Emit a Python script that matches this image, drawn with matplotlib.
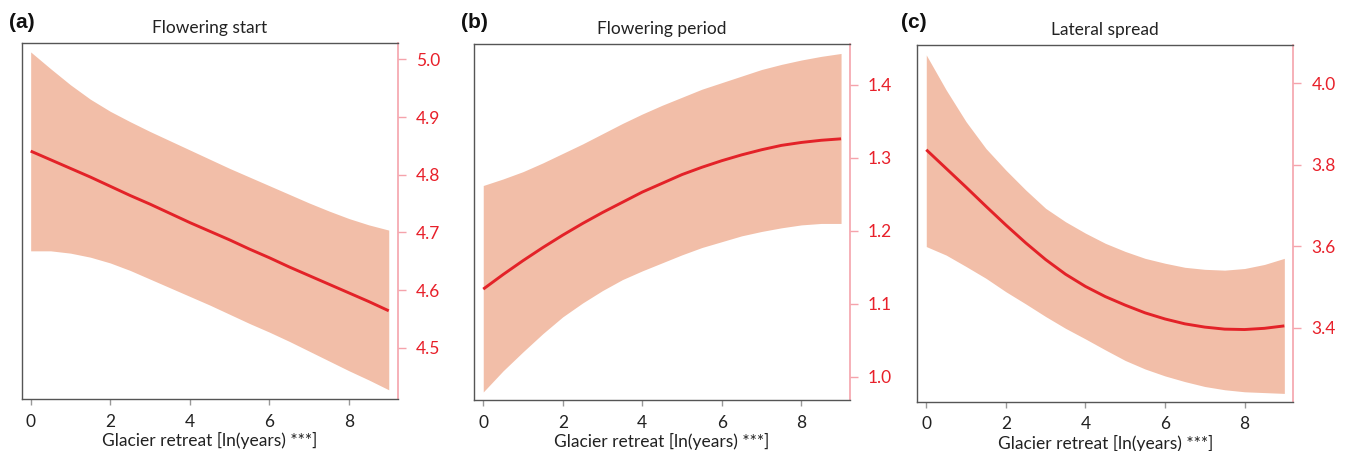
import matplotlib.pyplot as plt

plt.rcParams['font.family'] = ['Lato', 'DejaVu Sans']

# common x grid (ln years since glacier retreat)
retreat = [0, 0.5, 1, 1.5, 2, 2.5, 3, 3.5, 4, 4.5, 5, 5.5, 6, 6.5, 7, 7.5, 8, 8.5, 9]

# (a) flowering start
start_fit = [4.841, 4.826, 4.811, 4.796, 4.780, 4.764, 4.749, 4.733, 4.717, 4.702,
             4.687, 4.671, 4.656, 4.640, 4.625, 4.610, 4.595, 4.580, 4.564]
start_hi = [5.013, 4.984, 4.956, 4.931, 4.910, 4.892, 4.875, 4.859, 4.843, 4.827,
            4.811, 4.796, 4.781, 4.766, 4.751, 4.737, 4.724, 4.713, 4.704]
start_lo = [4.668, 4.668, 4.664, 4.657, 4.647, 4.634, 4.619, 4.604, 4.589, 4.574,
            4.558, 4.542, 4.527, 4.511, 4.494, 4.477, 4.460, 4.444, 4.427]

# (b) flowering period
period_fit = [1.120, 1.140, 1.159, 1.177, 1.194, 1.210, 1.225, 1.239, 1.253, 1.265,
              1.277, 1.287, 1.296, 1.304, 1.311, 1.317, 1.321, 1.324, 1.326]
period_hi = [1.262, 1.271, 1.281, 1.293, 1.306, 1.319, 1.333, 1.347, 1.360, 1.372,
             1.383, 1.394, 1.403, 1.412, 1.421, 1.428, 1.434, 1.439, 1.443]
period_lo = [0.979, 1.008, 1.034, 1.059, 1.082, 1.101, 1.118, 1.133, 1.145, 1.156,
             1.167, 1.177, 1.185, 1.193, 1.199, 1.204, 1.208, 1.210, 1.210]

# (c) lateral spread
spread_fit = [3.837, 3.791, 3.745, 3.698, 3.652, 3.608, 3.567, 3.531, 3.501, 3.476,
              3.455, 3.436, 3.421, 3.409, 3.401, 3.396, 3.395, 3.398, 3.404]
spread_hi = [4.070, 3.984, 3.906, 3.840, 3.787, 3.738, 3.693, 3.660, 3.632, 3.607,
             3.587, 3.570, 3.558, 3.548, 3.543, 3.541, 3.545, 3.555, 3.570]
spread_lo = [3.599, 3.578, 3.550, 3.521, 3.488, 3.458, 3.427, 3.398, 3.372, 3.345,
             3.319, 3.298, 3.281, 3.267, 3.255, 3.247, 3.242, 3.240, 3.238]

titles = ['Flowering start', 'Flowering period', 'Lateral spread']
panel_tags = ['(a)', '(b)', '(c)']
y_ticks = [[4.5, 4.6, 4.7, 4.8, 4.9, 5.0],
           [1.0, 1.1, 1.2, 1.3, 1.4],
           [3.4, 3.6, 3.8, 4.0]]
y_lims = [(4.411, 5.029), (0.968, 1.456), (3.2176, 4.094)]
x_ticks = [0, 2, 4, 6, 8]

band_color = '#f2bea8'
line_color = '#e32228'
red_text = '#e8202a'
pink_axis = '#f5a3ab'
grey = '#555555'

fig = plt.figure(figsize=(13.49, 4.51), dpi=100)
boxes = [[0.0161, 0.1153, 0.2787, 0.790],
         [0.3516, 0.1131, 0.2785, 0.7894],
         [0.6800, 0.1093, 0.2787, 0.7905]]
tag_x = [22, 474, 914]

series = [(start_fit, start_lo, start_hi),
          (period_fit, period_lo, period_hi),
          (spread_fit, spread_lo, spread_hi)]

for i, (fit, lo, hi) in enumerate(series):
    ax = fig.add_axes(boxes[i])
    ax.fill_between(retreat, lo, hi, color=band_color, linewidth=0)
    ax.plot(retreat, fit, color=line_color, lw=2.1, solid_capstyle='butt')

    ax.set_xlim(-0.225, 9.225)
    ax.set_ylim(*y_lims[i])
    ax.set_xticks(x_ticks)
    ax.set_yticks(y_ticks[i])
    ax.set_yticklabels(['%.1f' % v for v in y_ticks[i]])

    ax.yaxis.tick_right()
    ax.tick_params(axis='y', colors=pink_axis, labelcolor=red_text, labelsize=12.5,
                   length=6, width=1, pad=7)
    ax.tick_params(axis='x', colors='#999999', labelcolor='#222222', labelsize=12.5,
                   length=4.5, width=1, pad=6)
    for lab in ax.get_yticklabels():
        lab.set_verticalalignment('center_baseline')

    for side in ['left', 'top', 'bottom']:
        ax.spines[side].set_color(grey)
        ax.spines[side].set_linewidth(1)
    ax.spines['right'].set_color(pink_axis)
    ax.spines['right'].set_linewidth(1.2)

    ax.set_title(titles[i], fontsize=12.5, color='#222222', pad=7)
    ax.set_xlabel('Glacier retreat [ln(years) ***]', fontsize=12.5, color='#222222', labelpad=2)

    fig.text(tag_x[i] / 1349, 1 - 22 / 451, panel_tags[i], fontsize=15, fontweight='bold',
             family='Liberation Sans', ha='center', va='center', color='#111111')

fig.savefig('out.png', dpi=100)
